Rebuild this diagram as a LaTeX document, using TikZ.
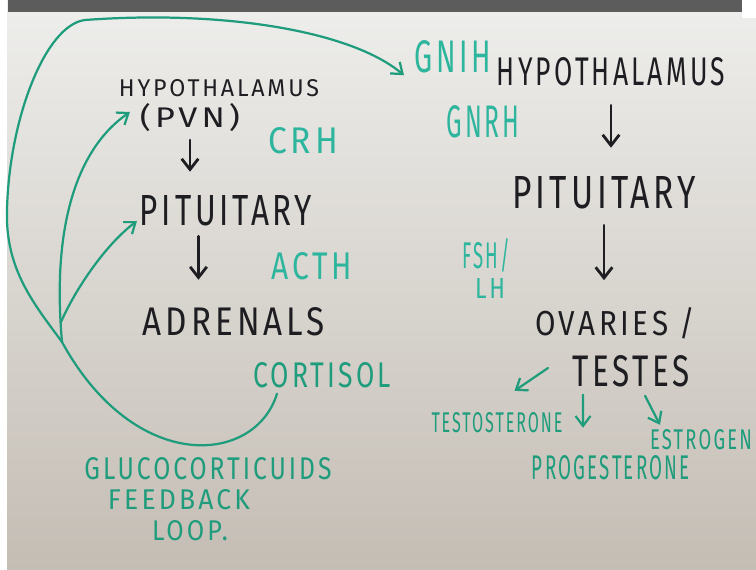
\documentclass[tikz,border=0pt]{standalone}
\usepackage{fontspec}
\setmainfont{Fira Sans}[LetterSpace=12]
\usetikzlibrary{arrows.meta, calc}
\definecolor{ink}{HTML}{1E1E22}
\definecolor{tealink}{HTML}{2DB59D}
\definecolor{greenink}{HTML}{1E9C7C}
\definecolor{boardtop}{HTML}{EEEEEC}
\definecolor{boardmid}{HTML}{E4E2DF}
\definecolor{boardbot}{HTML}{C4BDB4}
\definecolor{band}{HTML}{5C5C5C}
\newdimen\pxu \pxu=0.3mm
% text boxed to its size on the board, in px
\newcommand{\hand}[3]{\resizebox{#1\pxu}{#2\pxu}{#3}}

\begin{document}
\begin{tikzpicture}[x=0.3mm, y=-0.3mm,
      blk/.style={inner sep=0pt, outer sep=0pt, text=ink},
      tl/.style={inner sep=0pt, outer sep=0pt, text=tealink},
      gr/.style={inner sep=0pt, outer sep=0pt, text=greenink},
      flow/.style={draw=ink, line width=2.4pt, line cap=round, -{Straight Barb[length=3.2mm, width=5mm, line width=2.4pt]}},
      fb/.style={draw=greenink, line width=1.9pt, line cap=round},
      fbarrow/.style={fb, -{Straight Barb[length=3mm, width=4.5mm, line width=1.9pt]}}]
    \useasboundingbox (0,0) rectangle (756,569);
    \fill[white] (0,0) rectangle (756,569);
    \shade[top color=boardtop, middle color=boardmid, bottom color=boardbot] (7,0) rectangle (756,569);
    \fill[band] (8,0) rectangle (742,12);
    \fill[white] (742,0) rectangle (756,18);

    % left axis
    \node[blk] (hypoL) at (219,88) {\hand{200}{17}{HYPOTHALAMUS}};
    \node[blk] (pvn) at (190,118) {\hand{100}{24}{(PVN)}};
    \node[tl] (crh) at (303,141) {\hand{70}{26}{CRH}};
    \node[blk] (pitL) at (226,211) {\hand{172}{30}{PITUITARY}};
    \node[tl] (acth) at (312,266) {\hand{80}{27}{ACTH}};
    \node[blk] (adr) at (234,322) {\hand{182}{28}{ADRENALS}};
    \node[gr] (cortisol) at (322,375) {\hand{138}{25}{CORTISOL}};
    \node[gr] (gluco) at (208,469) {\hand{247}{22}{GLUCOCORTICUIDS}};
    \node[gr] (feedback) at (179,500) {\hand{142}{20}{FEEDBACK}};
    \node[gr] (loop) at (190,531) {\hand{76}{20}{LOOP.}};

    % right axis
    \node[tl] (gnih) at (453,57) {\hand{76}{32}{GNIH}};
    \node[blk] (hypoR) at (611,72) {\hand{228}{28}{HYPOTHALAMUS}};
    \node[tl] (gnrh) at (483,122) {\hand{73}{32}{GNRH}};
    \node[blk] (pitR) at (604,193) {\hand{183}{32}{PITUITARY}};
    \node[tl] (fsh) at (486,255) {\hand{48}{30}{FSH/}};
    \node[tl] (lh) at (490,288) {\hand{30}{20}{LH}};
    \node[blk] (ovaries) at (615,323) {\hand{160}{28}{OVARIES /}};
    \node[blk] (testes) at (631,371) {\hand{118}{31}{TESTES}};
    \node[gr] (testo) at (497,423) {\hand{131}{20}{TESTOSTERONE}};
    \node[gr] (proges) at (611,468) {\hand{158}{24}{PROGESTERONE}};
    \node[gr] (estro) at (701,440) {\hand{102}{20}{ESTROGEN}};

    % black arrows
    \draw[flow, shorten <=2.4mm, shorten >=7.2mm] (pvn.south) -- (pvn.south |- pitL.north);
    \draw[flow, shorten <=3mm, shorten >=8.4mm] ($(pitL.south west)!.34!(pitL.south east)$) coordinate (pa) -- (pa |- adr.north);
    \draw[flow, shorten <=5.7mm, shorten >=8.7mm] (hypoR.south) -- (hypoR.south |- pitR.north);
    \draw[flow, shorten <=4.8mm, shorten >=8.1mm] (pitR.south) -- (pitR.south |- ovaries.north);

    % green arrows from the gonads
    \draw[fbarrow] ($(testes.west)+(-24,-3)$) -- ($(testo.north east)+(-48,-22)$);
    \draw[fbarrow] ($(testes.south west)+(11,8)$) -- ($(proges.north west)+(51,-28)$);
    \draw[fbarrow] ($(testes.south east)+(-45,9)$) -- ($(estro.north west)+(10,-5)$);

    % feedback loop
    \coordinate (fbjoin) at (62,342);
    \draw[fbarrow] ($(cortisol.south west)+(24,6)$) .. controls (255,465) and (135,475) .. (fbjoin)
      .. controls (35,305) and (5,270) .. (7,210)
      .. controls (9,120) and (45,25) .. (85,20)
      .. controls (220,10) and (350,30) .. ($(gnih.south west)+(-11,2)$);
    \draw[fbarrow] (fbjoin) .. controls (52,230) and (75,150) .. ($(pvn.west)+(-10,-6)$);
    \draw[fbarrow] ($(fbjoin)+(-1,-20)$) .. controls (75,290) and (105,245) .. ($(pitL.west)+(-3,10)$);
  \end{tikzpicture}
\end{document}
